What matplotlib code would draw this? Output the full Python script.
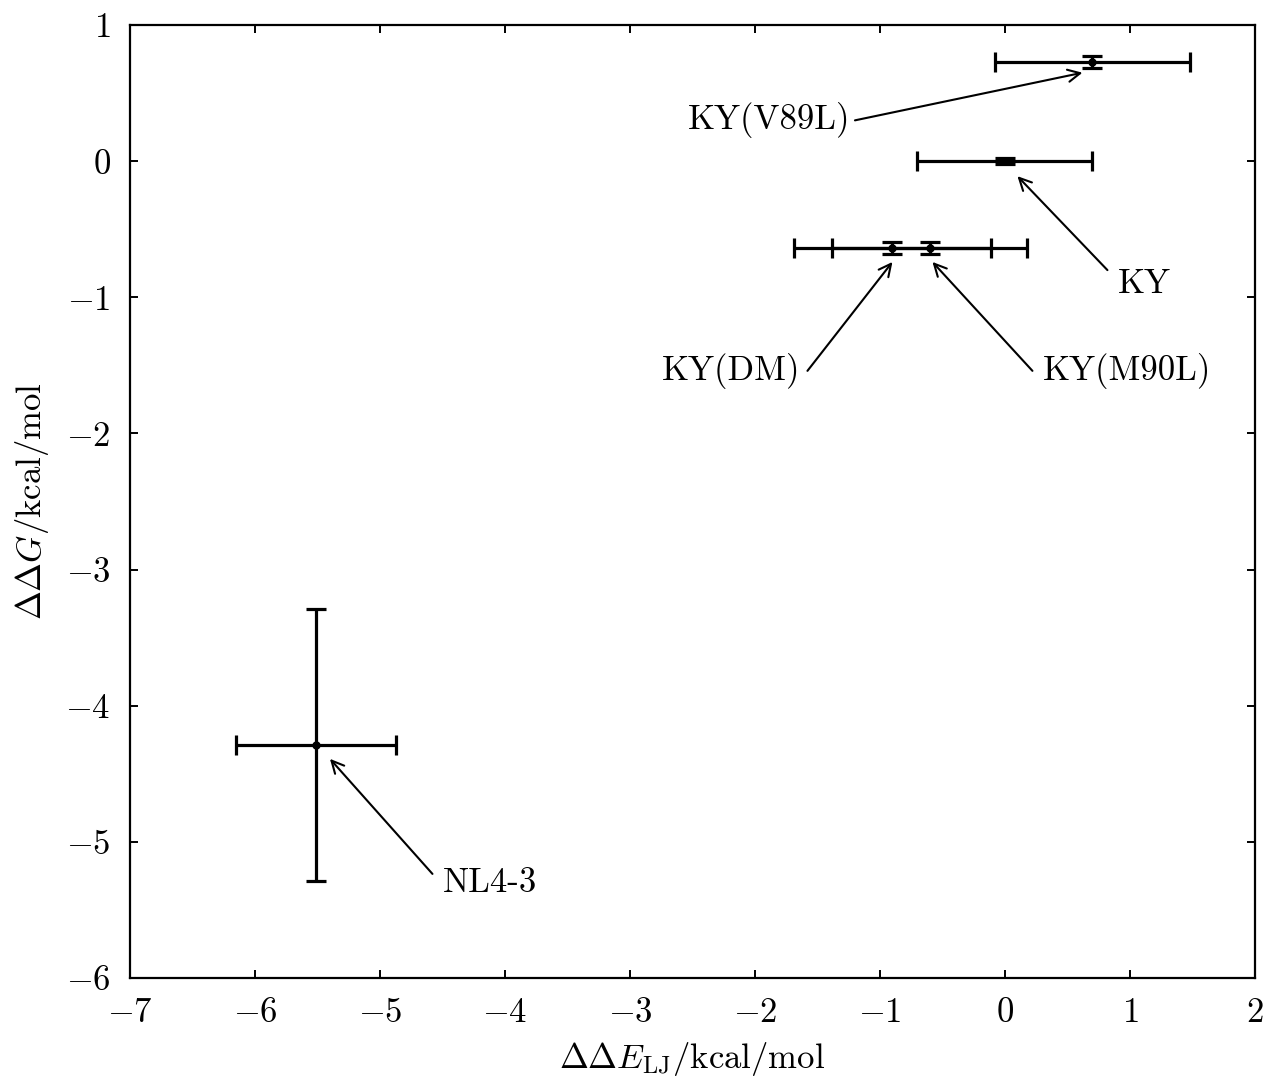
import matplotlib
matplotlib.use("Agg")
import matplotlib.pyplot as plt

plt.rcParams['mathtext.fontset'] = 'cm'
plt.rcParams['font.family'] = 'serif'
plt.rcParams['font.serif'] = ['cmr10', 'DejaVu Serif']
plt.rcParams['axes.formatter.use_mathtext'] = True
plt.rcParams['axes.unicode_minus'] = True

# data
names = ['KY(V89L)', 'KY', 'KY(DM)', 'KY(M90L)', 'NL4-3']
dE = [0.70, 0.0, -0.90, -0.60, -5.51]
dE_err = [0.78, 0.70, 0.79, 0.78, 0.64]
dG = [0.73, 0.0, -0.64, -0.64, -4.29]
dG_err = [0.045, 0.02, 0.045, 0.045, 1.0]

# label text position, arrow tail and arrow tip (data units)
label_xy = [(-1.24, 0.30), (0.90, -0.90), (-1.64, -1.54), (0.30, -1.54), (-4.50, -5.30)]
label_ha = ['right', 'left', 'right', 'left', 'left']
tail_xy = [(-1.20, 0.30), (0.82, -0.80), (-1.58, -1.54), (0.22, -1.54), (-4.58, -5.235)]
tip_xy = [(0.62, 0.65), (0.10, -0.11), (-0.90, -0.74), (-0.58, -0.74), (-5.40, -4.39)]

fig = plt.figure(figsize=(12.68, 10.8), dpi=100)
ax = fig.add_axes([0.1025, 0.0944, 0.8872, 0.8824])

ax.errorbar(dE, dG, xerr=dE_err, yerr=dG_err, fmt='o', color='black',
            markersize=5, elinewidth=2.3, capsize=7.5, capthick=2.3)

for name, (tx, ty), ha, tail, tip in zip(names, label_xy, label_ha, tail_xy, tip_xy):
    ax.text(tx, ty, name, ha=ha, va='center', fontsize=25)
    ax.annotate('', xy=tip, xytext=tail,
                arrowprops=dict(arrowstyle='->', color='black', lw=1.5,
                                mutation_scale=22, shrinkA=0, shrinkB=0))

ax.set_xlim(-7, 2)
ax.set_ylim(-6, 1)
ax.set_xticks(range(-7, 3))
ax.set_yticks(range(-6, 2))
ax.tick_params(direction='in', top=True, right=True, length=6, width=1.4,
               labelsize=25)
ax.tick_params(axis='x', pad=14)
ax.tick_params(axis='y', pad=14)
for s in ax.spines.values():
    s.set_linewidth(1.6)

ax.set_xlabel(r'$\Delta\Delta E_{\rm LJ}/{\rm kcal/mol}$', fontsize=25, labelpad=8)
ax.set_ylabel(r'$\Delta\Delta G/{\rm kcal/mol}$', fontsize=25, labelpad=10)

fig.savefig('out.png', dpi=100)
